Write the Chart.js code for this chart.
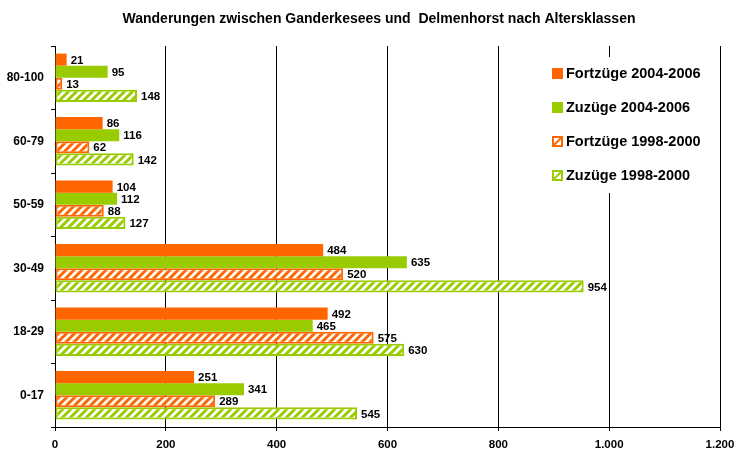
<!DOCTYPE html>
<html>
<head>
<meta charset="utf-8">
<script src="https://cdn.jsdelivr.net/npm/chart.js@4"></script>
<style>
  html, body { margin: 0; padding: 0; background: #fff; }
  #wrap { width: 736px; height: 450px; }
</style>
</head>
<body>
<div id="wrap"><canvas id="chart" width="736" height="450"></canvas></div>
<script>
// Daten
const altersklassen = ['80-100', '60-79', '50-59', '30-49', '18-29', '0-17'];
const fortzuege0406 = [21, 86, 104, 484, 492, 251];
const zuzuege0406 = [95, 116, 112, 635, 465, 341];
const fortzuege9800 = [13, 62, 88, 520, 575, 289];
const zuzuege9800 = [148, 142, 127, 954, 630, 545];
const xTicks = [0, 200, 400, 600, 800, 1000, 1200];

const ORANGE = '#FF6600';
const GRUEN = '#99CC00';
const FONT = '"Liberation Sans", Arial, sans-serif';

// Schraffur-Muster (diagonal)
function schraffur(farbe) {
    const c = document.createElement('canvas');
    c.width = 8; c.height = 8;
    const g = c.getContext('2d');
    g.fillStyle = '#fff';
    g.fillRect(0, 0, 8, 8);
    g.strokeStyle = farbe;
    g.lineWidth = 3;
    g.beginPath();
    g.moveTo(-2, 10); g.lineTo(10, -2);
    g.moveTo(-6, 6); g.lineTo(6, -6);
    g.moveTo(2, 14); g.lineTo(14, 2);
    g.stroke();
    return g.createPattern(c, 'repeat');
}

const legendItems = [
    { text: 'Fortzüge 2004-2006', farbe: ORANGE, hatch: false },
    { text: 'Zuzüge 2004-2006', farbe: GRUEN, hatch: false },
    { text: 'Fortzüge 1998-2000', farbe: ORANGE, hatch: true },
    { text: 'Zuzüge 1998-2000', farbe: GRUEN, hatch: true }
];

// Werte, Titel und Legende zeichnen
const extras = {
    id: 'extras',
    afterDatasetsDraw(chart) {
        const ctx = chart.ctx;
        ctx.save();
        ctx.font = 'bold 11.5px ' + FONT;
        ctx.fillStyle = '#000';
        ctx.textBaseline = 'middle';
        ctx.textAlign = 'left';
        chart.data.datasets.forEach((ds, i) => {
            chart.getDatasetMeta(i).data.forEach((bar, j) => {
                ctx.fillText(String(ds.data[j]), bar.x + 4, bar.y + 1);
            });
        });

        // Titel
        ctx.font = 'bold 14px ' + FONT;
        ctx.textAlign = 'center';
        ctx.fillText('Wanderungen zwischen Ganderkesees und  Delmenhorst nach Altersklassen', 379, 19);

        // Legende
        ctx.fillStyle = '#fff';
        ctx.fillRect(544, 57, 172, 136);
        ctx.font = 'bold 14.5px ' + FONT;
        ctx.textAlign = 'left';
        legendItems.forEach((it, k) => {
            const y = 74 + k * 34;
            if (it.hatch) {
                ctx.fillStyle = '#fff';
                ctx.fillRect(553, y - 5, 9, 9);
                ctx.strokeStyle = it.farbe;
                ctx.lineWidth = 2;
                ctx.strokeRect(553, y - 5, 9, 9);
                ctx.beginPath();
                ctx.moveTo(553, y + 4); ctx.lineTo(562, y - 5);
                ctx.stroke();
            } else {
                ctx.fillStyle = it.farbe;
                ctx.fillRect(552, y - 6, 11, 11);
            }
            ctx.fillStyle = '#000';
            ctx.fillText(it.text, 566, y);
        });
        ctx.restore();
    }
};

const ctx = document.getElementById('chart').getContext('2d');
new Chart(ctx, {
    type: 'bar',
    data: {
        labels: altersklassen,
        datasets: [
            { label: 'Fortzüge 2004-2006', data: fortzuege0406, backgroundColor: ORANGE, borderWidth: 0 },
            { label: 'Zuzüge 2004-2006', data: zuzuege0406, backgroundColor: GRUEN, borderWidth: 0 },
            { label: 'Fortzüge 1998-2000', data: fortzuege9800, backgroundColor: schraffur(ORANGE), borderColor: ORANGE, borderWidth: 2, borderSkipped: false },
            { label: 'Zuzüge 1998-2000', data: zuzuege9800, backgroundColor: schraffur(GRUEN), borderColor: GRUEN, borderWidth: 2, borderSkipped: false }
        ]
    },
    options: {
        indexAxis: 'y',
        responsive: false,
        animation: false,
        layout: { padding: { top: 46, right: 16, left: 0, bottom: 0 } },
        datasets: { bar: { categoryPercentage: 0.76, barPercentage: 1.0 } },
        plugins: {
            legend: { display: false },
            title: { display: false },
            tooltip: { enabled: false }
        },
        scales: {
            x: {
                min: 0,
                max: 1200,
                afterBuildTicks: axis => { axis.ticks = xTicks.map(v => ({ value: v })); },
                afterFit: axis => {
                    axis.height = 23;
                    axis.paddingLeft = 0;
                    axis.paddingRight = 0;
                },
                grid: { color: '#000', lineWidth: 1, tickLength: 4, drawTicks: true },
                border: { color: '#000', width: 1 },
                ticks: {
                    color: '#000',
                    font: { family: FONT, size: 11.5, weight: 'bold' },
                    padding: 7,
                    callback: v => String(v).replace(/\B(?=(\d{3})+(?!\d))/g, '.')
                }
            },
            y: {
                afterFit: axis => {
                    axis.width = 55;
                    axis.paddingTop = 0;
                    axis.paddingBottom = 0;
                },
                grid: { drawOnChartArea: false, color: '#000', tickLength: 4, offset: true },
                border: { color: '#000', width: 1 },
                ticks: {
                    color: '#000',
                    font: { family: FONT, size: 12, weight: 'bold' },
                    padding: 7
                }
            }
        }
    },
    plugins: [extras]
});
</script>
</body>
</html>
